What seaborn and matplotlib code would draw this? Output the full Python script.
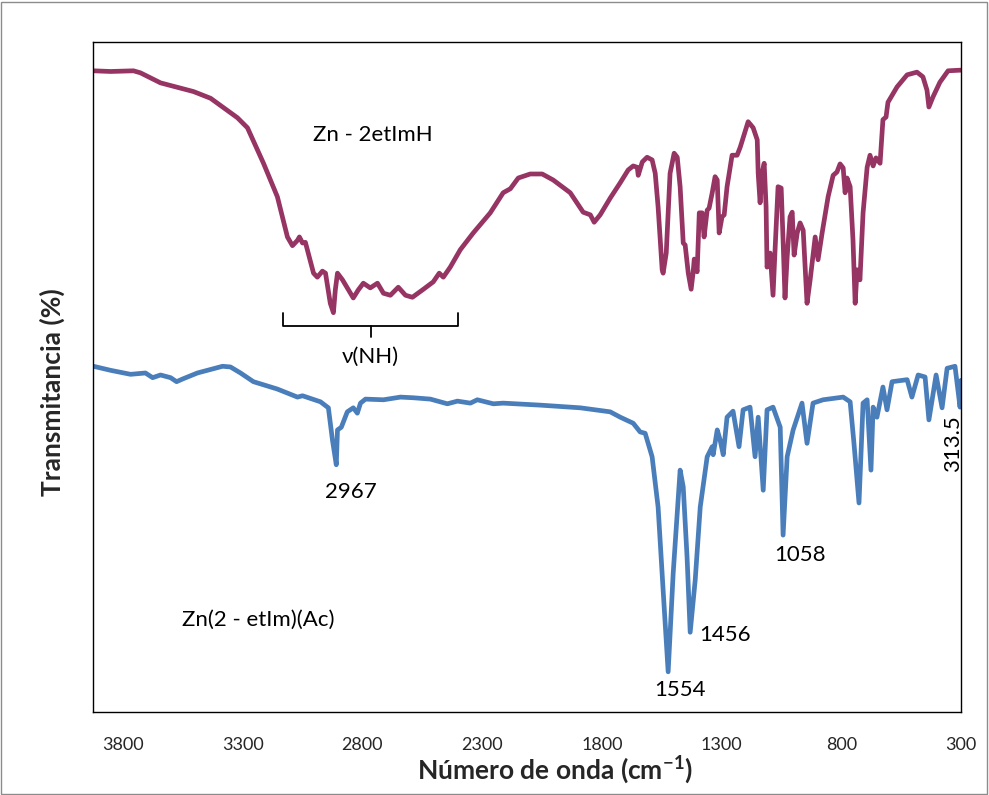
import numpy as np
import pandas as pd
import matplotlib
matplotlib.use("Agg")
import matplotlib.pyplot as plt
import seaborn as sns
from matplotlib.patches import Rectangle

# ---------------- data ----------------
wn_upper = [3923, 3852, 3756, 3727, 3643, 3505, 3434, 3322, 3280, 3213, 3155, 3113,
            3092, 3071, 3063, 3050, 3038, 3004, 2988, 2967, 2954, 2934, 2921, 2913,
            2904, 2883, 2863, 2838, 2817, 2796, 2767, 2737, 2712, 2683, 2650, 2620,
            2591, 2545, 2504, 2479, 2462, 2433, 2391, 2337, 2266, 2212, 2182, 2149,
            2099, 2049, 2003, 1932, 1878, 1848, 1832, 1807, 1765, 1723, 1690, 1669,
            1652, 1648, 1631, 1611, 1590, 1577, 1565, 1548, 1544, 1531, 1515, 1498,
            1485, 1473, 1460, 1452, 1439, 1427, 1419, 1414, 1402, 1393, 1381, 1373,
            1360, 1352, 1339, 1327, 1318, 1310, 1298, 1289, 1277, 1256, 1235, 1222,
            1189, 1168, 1151, 1147, 1139, 1131, 1122, 1114, 1110, 1097, 1085, 1076,
            1064, 1051, 1043, 1035, 1026, 1014, 1005, 997, 984, 972, 959, 943, 930,
            909, 897, 880, 855, 834, 818, 805, 792, 784, 776, 763, 751, 742, 734,
            722, 709, 692, 680, 667, 655, 638, 626, 613, 605, 567, 525, 484, 459,
            442, 434, 417, 388, 354, 300]
t_upper = [95.7, 95.6, 95.7, 95.4, 93.9, 92.6, 91.6, 88.7, 87.2, 81.9, 76.9, 70.9,
           69.6, 70.4, 70.9, 70.0, 70.1, 65.5, 64.9, 65.8, 65.5, 61.0, 59.6, 63.0,
           65.5, 64.5, 63.3, 61.8, 63.0, 64.0, 63.3, 64.0, 62.5, 62.2, 63.4, 62.2,
           61.9, 63.1, 64.2, 65.5, 64.9, 66.4, 69.0, 71.5, 74.5, 77.5, 78.1, 79.7,
           80.3, 80.3, 79.4, 77.5, 74.6, 74.2, 73.1, 74.2, 76.7, 79.0, 80.9, 81.5,
           81.3, 80.1, 82.1, 82.8, 82.4, 80.4, 75.4, 66.0, 65.5, 68.5, 80.4, 83.4,
           82.8, 78.4, 70.0, 69.7, 65.5, 63.1, 65.5, 67.6, 65.7, 74.5, 74.5, 70.9,
           74.9, 75.2, 77.5, 79.9, 79.4, 71.5, 73.9, 74.2, 78.4, 83.1, 83.1, 84.3,
           88.1, 87.2, 85.4, 80.4, 76.0, 80.4, 81.9, 75.4, 66.4, 68.5, 62.2, 69.4,
           78.4, 78.2, 70.4, 61.8, 67.9, 73.9, 74.6, 68.2, 71.5, 73.0, 71.9, 61.0, 64.5,
           70.9, 67.5, 71.5, 76.9, 80.1, 80.6, 81.8, 81.2, 77.5, 79.7, 78.4, 70.4, 61.0, 66.0,
           64.5, 74.5, 81.3, 83.1, 81.5, 82.7, 81.9, 88.4, 88.8, 91.0, 93.3, 95.1, 95.5, 94.8,
           92.8, 90.3, 91.8, 94.0, 95.7, 95.8]

wn_lower = [3923, 3852, 3768, 3706, 3676, 3643, 3601, 3576, 3551, 3489, 3384, 3351,
            3309, 3255, 3155, 3071, 3050, 2975, 2942, 2925, 2909, 2904, 2888, 2863,
            2838, 2821, 2808, 2787, 2712, 2641, 2587, 2516, 2445, 2403, 2349, 2320,
            2253, 2212, 2057, 1890, 1765, 1723, 1669, 1640, 1619, 1590, 1565, 1544,
            1523, 1502, 1473, 1460, 1444, 1431, 1410, 1389, 1360, 1339, 1335, 1318,
            1306, 1293, 1277, 1252, 1227, 1210, 1181, 1160, 1147, 1126, 1110, 1085,
            1055, 1043, 1026, 1001, 964, 943, 918, 876, 792, 763, 747, 726, 709, 692,
            676, 667, 651, 626, 609, 588, 525, 505, 479, 450, 434, 404, 379, 358,
            325, 304, 300]
t_lower = [51.6, 51.0, 50.4, 50.6, 49.9, 50.3, 49.9, 49.3, 49.7, 50.6, 51.6, 51.5,
           50.6, 49.3, 48.2, 47.0, 47.2, 46.3, 45.4, 40.6, 36.9, 42.1, 42.5, 44.8,
           45.4, 44.6, 46.1, 46.7, 46.6, 47.0, 46.9, 46.7, 46.0, 46.4, 46.1, 46.6,
           46.0, 46.1, 45.8, 45.4, 44.8, 44.0, 43.1, 41.8, 41.6, 38.1, 30.6, 18.2,
           6.0, 20.7, 36.1, 33.6, 23.1, 11.9, 19.7, 30.6, 38.1, 39.6, 38.4, 42.1,
           40.6, 38.4, 44.0, 44.9, 39.6, 45.1, 45.5, 38.1, 44.0, 33.1, 45.1, 45.5,
           42.5, 26.4, 38.1, 42.1, 46.1, 40.1, 46.1, 46.6, 47.0, 46.3, 40.1, 31.2, 46.1, 46.6,
           36.1, 45.5, 44.0, 48.5, 45.1, 49.3, 49.6, 47.0, 50.3, 50.0, 43.6, 50.3, 45.4, 51.3,
           51.6, 45.5, 49.5]

series_names = ["Zn - 2etImH", "Zn(2 - etIm)(Ac)"]
x_ticks = [3800, 3300, 2800, 2300, 1800, 1300, 800, 300]
peak_labels = ["2967", "1554", "1456", "1058", "313.5"]
nh_range = (3130, 2400)

df = pd.concat([
    pd.DataFrame({"wn": wn_upper, "T": t_upper, "muestra": series_names[0]}),
    pd.DataFrame({"wn": wn_lower, "T": t_lower, "muestra": series_names[1]}),
], ignore_index=True)

# ---------------- style ----------------
sns.set_theme(style="white")
plt.rcParams["font.family"] = ["Lato", "DejaVu Sans"]
plt.rcParams["mathtext.fontset"] = "custom"
plt.rcParams["mathtext.rm"] = "Lato"
plt.rcParams["mathtext.bf"] = "Lato:bold"

fig = plt.figure(figsize=(9.89, 7.95), dpi=100)
ax = fig.add_axes([93 / 989, 1 - 712 / 795, (961 - 93) / 989, (712 - 42) / 795])

palette = {series_names[0]: "#963463", series_names[1]: "#4A7EBB"}
sns.lineplot(data=df, x="wn", y="T", hue="muestra", palette=palette,
             estimator=None, sort=False, linewidth=3.4, legend=False, ax=ax)
for ln in ax.lines:
    ln.set_solid_joinstyle("round")
    ln.set_solid_capstyle("round")

ax.set_xlim(3925, 300)
ax.set_ylim(0, 100)
ax.set_xticks(x_ticks)
ax.set_xticklabels([str(v) for v in x_ticks], fontsize=13)
ax.set_yticks([])
ax.tick_params(axis="x", length=0, pad=18)
for s in ax.spines.values():
    s.set_color("black")
    s.set_linewidth(1.0)

ax.set_xlabel(r"Número de onda (cm$^{\mathbf{-1}}$)", fontsize=19, fontweight="bold", labelpad=5)
ax.set_ylabel("Transmitancia (%)", fontsize=19, fontweight="bold", labelpad=20)
ax.xaxis.set_label_coords(0.532, -0.062)
ax.yaxis.label.set_y(0.478)

# annotations
txt_kw = dict(fontsize=16, color="black", ha="center", va="center")
ax.text(2758, 86.1, series_names[0], **txt_kw)
ax.text(3234, 13.7, series_names[1], **txt_kw)
ax.text(2767, 53.0, "ν(NH)", **txt_kw)
ax.text(2850, 32.8, peak_labels[0], **txt_kw)
ax.text(1473, 3.3, peak_labels[1], **txt_kw)
ax.text(1285, 11.5, peak_labels[2], **txt_kw)
ax.text(972, 23.4, peak_labels[3], **txt_kw)
ax.text(333, 40.1, peak_labels[4], rotation=90, **txt_kw)

# brace under the NH band
mid = (nh_range[0] + nh_range[1]) / 2
ax.plot([nh_range[0], nh_range[0], nh_range[1], nh_range[1]], [59.6, 57.6, 57.6, 59.6],
        color="black", lw=1.3)
ax.plot([mid, mid], [57.6, 56.0], color="black", lw=1.3)

# outer figure border
fig.patches.append(Rectangle((0.001, 0.001), 0.997, 0.997, transform=fig.transFigure,
                             fill=False, edgecolor="#8c8c8c", lw=1.0))

fig.savefig("out.png", dpi=100)
